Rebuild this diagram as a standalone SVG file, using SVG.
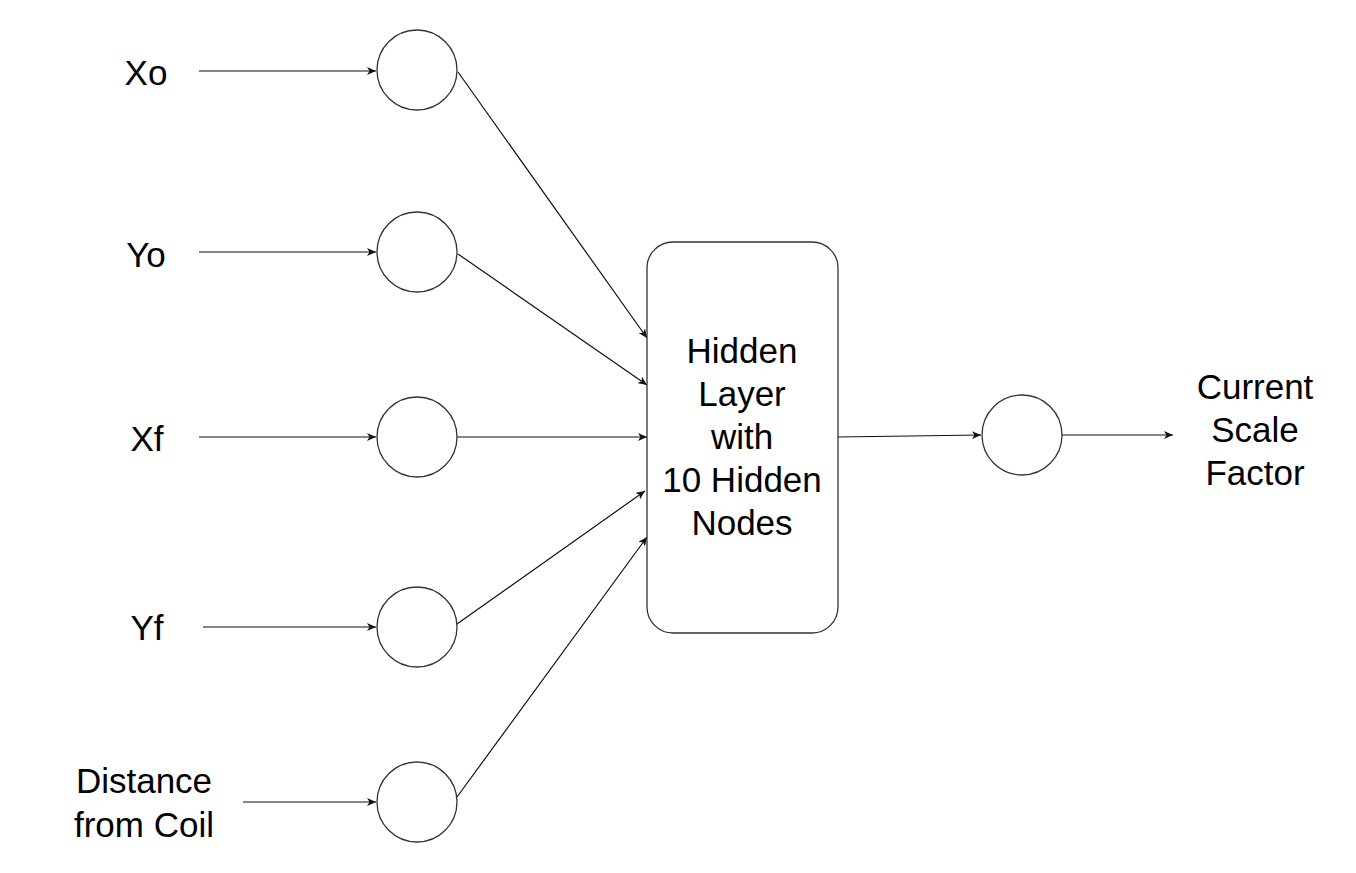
<svg xmlns="http://www.w3.org/2000/svg" width="1356" height="873" viewBox="0 0 1356 873">
<style>
.node{fill:#fff;stroke:#333;stroke-width:1.3}
.edge{fill:none;stroke:#111;stroke-width:1.2}
.t{font-family:"Liberation Sans",Arial,sans-serif;font-size:35px;fill:#000;text-anchor:middle}
</style>
<defs>
<marker id="arr" markerUnits="userSpaceOnUse" markerWidth="10" markerHeight="8" refX="9" refY="4" orient="auto">
<path d="M0,0 L9,4 L0,8 L2.5,4 z" fill="#111"/>
</marker>
</defs>
<rect width="1356" height="873" fill="#fff"/>
<g id="labels">
<text class="t" x="146" y="85">Xo</text>
<text class="t" x="146" y="267">Yo</text>
<text class="t" x="147" y="451">Xf</text>
<text class="t" x="147" y="640">Yf</text>
<text class="t" x="144" y="793">Distance</text>
<text class="t" x="144" y="837">from Coil</text>
<text class="t" x="1255" y="399">Current</text>
<text class="t" x="1255" y="442">Scale</text>
<text class="t" x="1255" y="485">Factor</text>
</g>
<g id="connectors">
<line class="edge" x1="199" y1="71" x2="376" y2="71" marker-end="url(#arr)"/>
<line class="edge" x1="199" y1="252" x2="376" y2="252" marker-end="url(#arr)"/>
<line class="edge" x1="199" y1="437" x2="376" y2="437" marker-end="url(#arr)"/>
<line class="edge" x1="203" y1="627" x2="376" y2="627" marker-end="url(#arr)"/>
<line class="edge" x1="243" y1="802" x2="376" y2="802" marker-end="url(#arr)"/>
<line class="edge" x1="458" y1="72" x2="647" y2="338" marker-end="url(#arr)"/>
<line class="edge" x1="458" y1="254" x2="647" y2="385" marker-end="url(#arr)"/>
<line class="edge" x1="457" y1="437" x2="647" y2="437" marker-end="url(#arr)"/>
<line class="edge" x1="457" y1="624" x2="645" y2="491" marker-end="url(#arr)"/>
<line class="edge" x1="457" y1="797" x2="647" y2="537" marker-end="url(#arr)"/>
<line class="edge" x1="838" y1="437" x2="981" y2="435" marker-end="url(#arr)"/>
<line class="edge" x1="1062" y1="435" x2="1173" y2="435" marker-end="url(#arr)"/>
</g>
<g id="in1"><circle class="node" cx="417" cy="70" r="40"/></g>
<g id="in2"><circle class="node" cx="417" cy="252" r="40"/></g>
<g id="in3"><circle class="node" cx="417" cy="437" r="40"/></g>
<g id="in4"><circle class="node" cx="417" cy="627" r="40"/></g>
<g id="in5"><circle class="node" cx="417" cy="802" r="40"/></g>
<g id="hidden">
<rect class="node" x="647" y="242" width="191" height="391" rx="26" ry="26"/>
<text class="t" x="742" y="363">Hidden</text>
<text class="t" x="742" y="406">Layer</text>
<text class="t" x="742" y="449">with</text>
<text class="t" x="742" y="492">10 Hidden</text>
<text class="t" x="742" y="535">Nodes</text>
</g>
<g id="out"><circle class="node" cx="1022" cy="435" r="40"/></g>
</svg>
